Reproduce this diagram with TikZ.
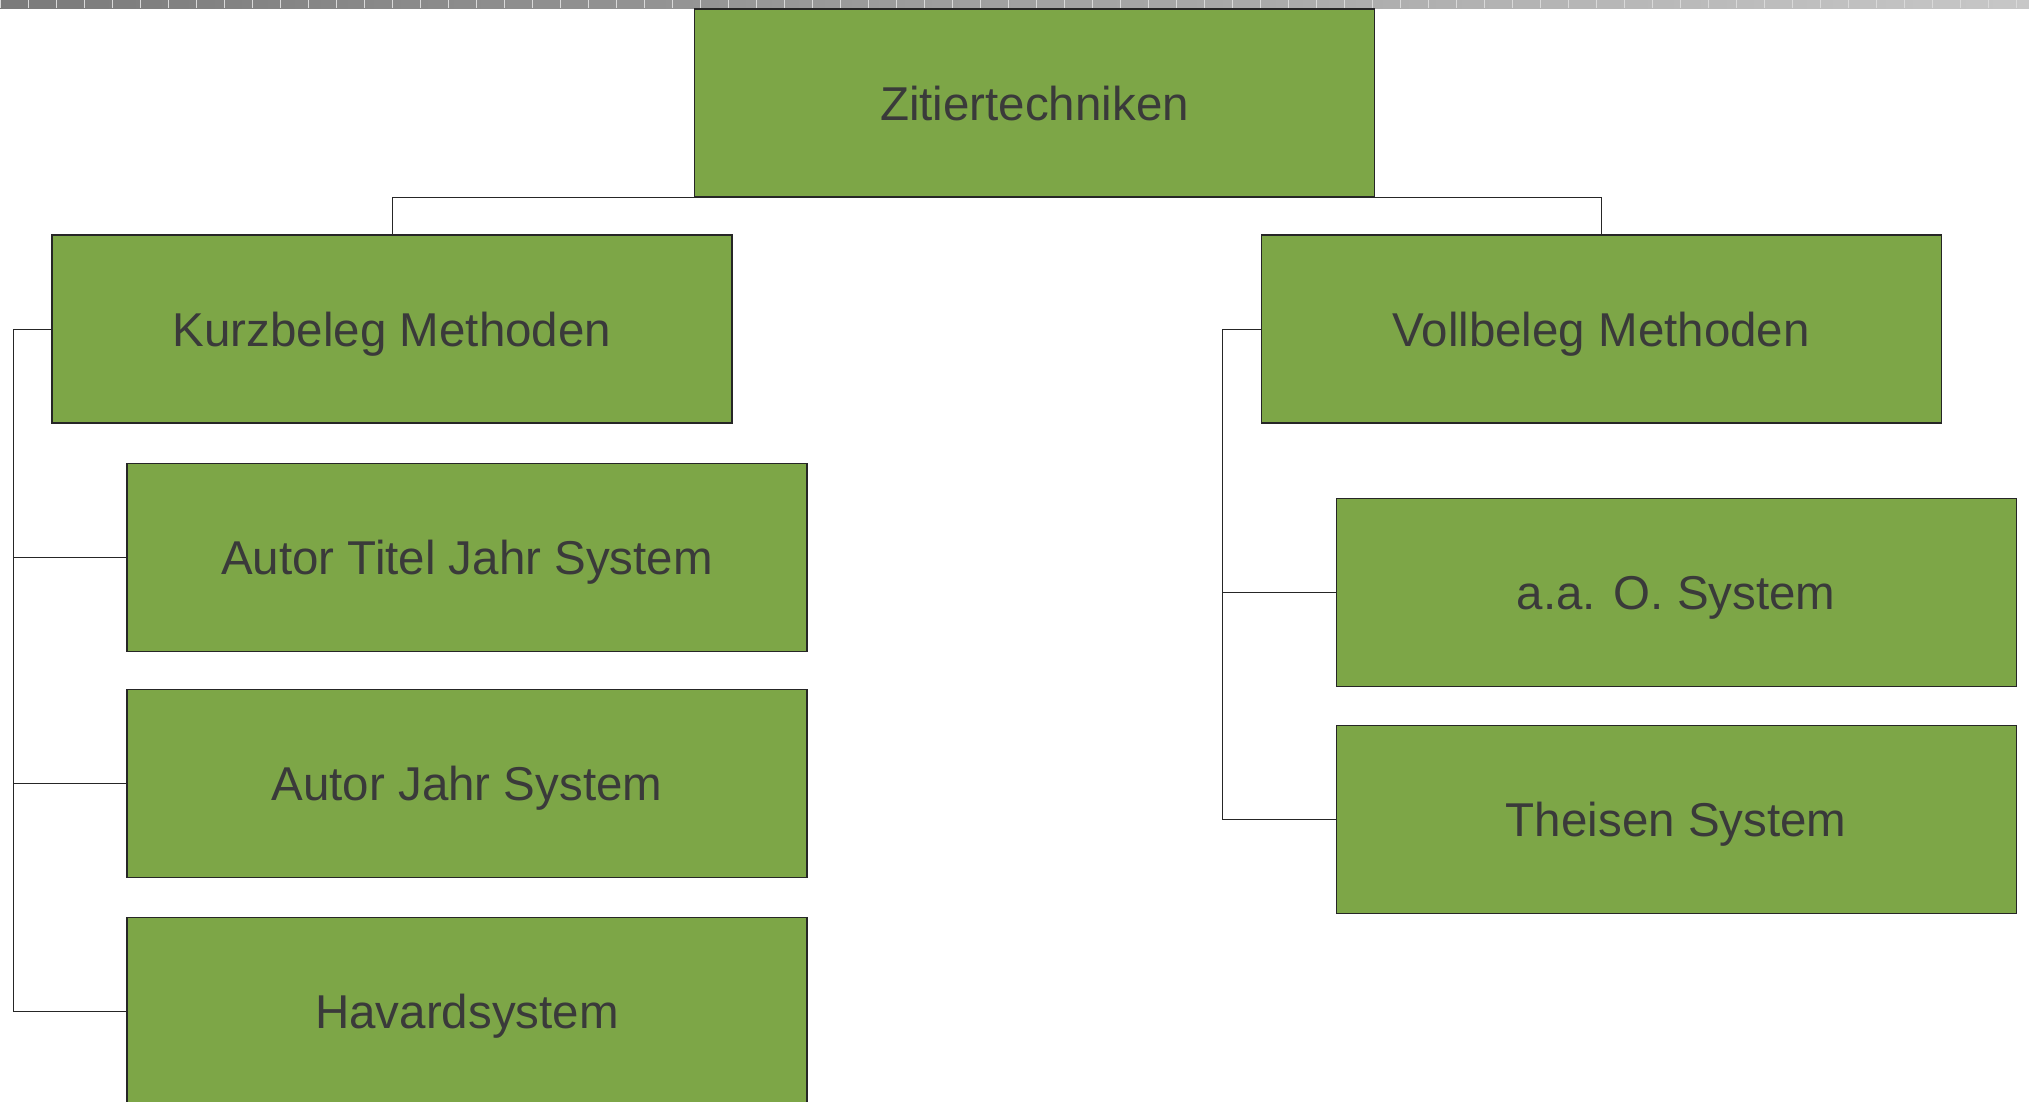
\documentclass[tikz,border=0pt]{standalone}
\usepackage{fontspec}
\setmainfont{Liberation Sans}
\usepackage{xcolor}
\usepackage{tikz}
\usetikzlibrary{positioning}

\definecolor{leafgreen}{HTML}{7DA647}
\definecolor{inkgrey}{HTML}{3A3A3A}

\begin{document}
\begin{tikzpicture}[
  x=1pt, y=1pt,
  box/.style={draw=black!85, line width=1.2pt, fill=leafgreen, text=inkgrey,
    minimum width=680pt, minimum height=188pt, inner sep=0pt, align=center,
    text height=34pt, text depth=0pt,
    font=\fontsize{47.5}{57}\selectfont},
  link/.style={draw=black!85, line width=1pt}
]
  \useasboundingbox (0,0) rectangle (2029,-1101);
  % ruler strip on top
  \shade[left color=black!52, right color=black!22] (0,0) rectangle (2029,-8);
  \foreach \i in {0,28,...,2029}
    \draw[white!70!gray, line width=0.4pt] (\i,0) -- (\i,-8);

  \node[box] (zitier) at (1034.5,-103) {Zitiertechniken};
  \node[box] (kurz) at (392,-329) {Kurzbeleg Methoden};
  \node[box, right=528pt of kurz] (voll) {Vollbeleg Methoden};
  \node[box, below=39pt of kurz, xshift=75pt] (atj) {Autor Titel Jahr System};
  \node[box, below=37pt of atj] (aj) {Autor Jahr System};
  \node[box, below=39pt of aj] (hav) {Havardsystem};
  \node[box, below=74pt of voll, xshift=75pt] (aao) {a.a. O. System};
  \node[box, below=38pt of aao] (theis) {Theisen System};

  \draw[link] (zitier.south) -| (kurz.north);
  \draw[link] (zitier.south) -| (voll.north);
  \foreach \c in {atj,aj,hav}
    \draw[link] (kurz.west) -- ++(-38pt,0) |- (\c.west);
  \foreach \c in {aao,theis}
    \draw[link] (voll.west) -- ++(-38pt,0) |- (\c.west);
\end{tikzpicture}
\end{document}
